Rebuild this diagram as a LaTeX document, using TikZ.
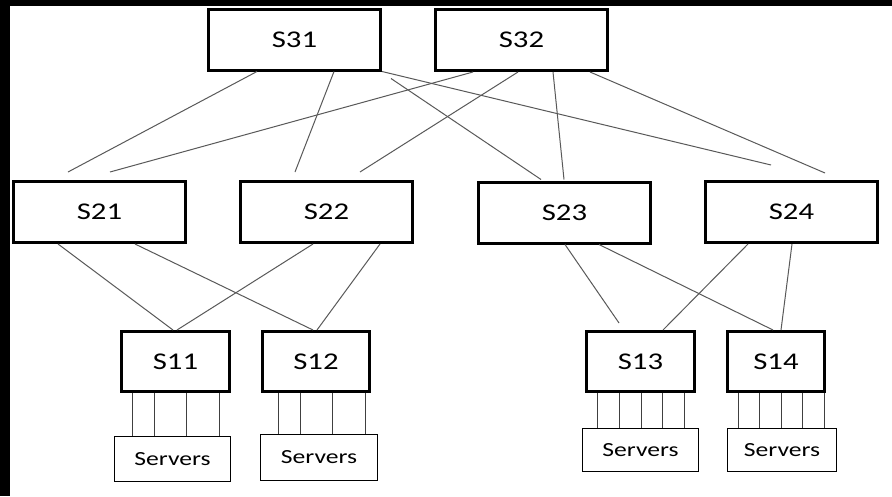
\documentclass[tikz,border=0pt]{standalone}
\usepackage{fontspec}
\newfontfamily\boxfont[FakeStretch=1.28]{Carlito}
\usetikzlibrary{calc}

\begin{document}
\begin{tikzpicture}[x=0.75pt,y=-0.75pt]
  \tikzset{switch/.style = {shape=rectangle,draw,line width=2.25pt,minimum width=129pt,minimum height=45.75pt,font=\boxfont\fontsize{18}{20}\selectfont}}
  \tikzset{tor/.style = {switch,minimum height=45pt}}
  \tikzset{rack/.style = {shape=rectangle,draw,line width=0.75pt,font=\boxfont\fontsize{15}{17}\selectfont}}
  \tikzset{link/.style = {draw=black!65,line width=0.75pt}}
  \tikzset{wire/.style = {draw=black!75,line width=0.75pt}}

  % frame of the picture
  \fill[black] (0,0) rectangle (892,496);
  \fill[white] (10,6) rectangle (892,496);
  \useasboundingbox (0,0) rectangle (892,496);

	\node[switch] (S31) at (294.5,39.5) {S31};
	\node[switch] (S32) at (521.5,40) {S32};

	\node[switch] (S21) at (99.5,212) {S21};
	\node[switch] (S22) at (326.5,212) {S22};
	\node[switch] (S23) at (564.5,212.5) {S23};
	\node[switch] (S24) at (791.5,212) {S24};

	\node[tor,minimum width=81pt] (S11) at (175.5,361.5) {S11};
	\node[tor,minimum width=80.25pt] (S12) at (316,361.5) {S12};
	\node[tor,minimum width=81pt] (S13) at (640.5,361.5) {S13};
	\node[tor,minimum width=72.75pt] (S14) at (776,361.5) {S14};

	\node[rack,minimum width=87pt,minimum height=33.75pt] (R11) at (172.5,459) {Servers};
	\node[rack,minimum width=87.75pt,minimum height=34.5pt] (R12) at (319,457.5) {Servers};
	\node[rack,minimum width=87pt,minimum height=32.25pt] (R13) at (640.5,450) {Servers};
	\node[rack,minimum width=81.75pt,minimum height=32.25pt] (R14) at (782,450) {Servers};

    \foreach \from/\fx/\to/\tx/\ty in {S31/50/S21/56/-8, S31/127/S22/56/-8,
        S32/39/S21/98/-8, S32/84/S22/121/-8, S32/119/S23/87/-1, S32/156/S24/121/-7,
        S21/46/S11/53/0, S21/123/S12/52/0, S22/74/S11/57/0, S22/141/S12/56/0,
        S23/88/S13/34/-7, S23/122/S14/47/0, S24/44/S13/78/0, S24/88/S14/55/0}
    \path[link] ($(\from.south west)+(\fx,0)$) -- ($(\to.north west)+(\tx,\ty)$);
    \path[link] ($(S31.south west)+(184,7)$) -- ($(S23.north west)+(64,-1)$);
    \path[link] (S31.south east) -- ($(S24.north west)+(67,-15)$);

    \foreach \up/\down/\xs in {S11/R11/{132,154,186,219}, S12/R12/{278,300,332,365},
        S13/R13/{597,619,641,662,684}, S14/R14/{738,759,781,802,824}}
    \foreach \x in \xs
    \path[wire] (\x,0 |- \up.south) -- (\x,0 |- \down.north);

\end{tikzpicture}
\end{document}
